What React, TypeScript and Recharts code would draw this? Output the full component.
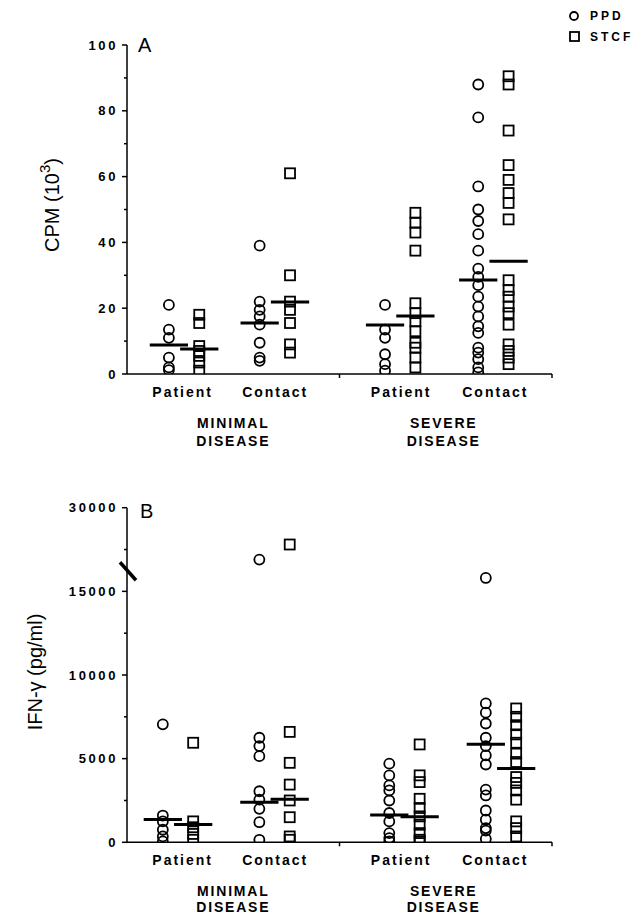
import { ReferenceDot, ReferenceLine, Scatter, ScatterChart, XAxis, YAxis } from "recharts";

const FONT = "'Liberation Sans', Arial, Helvetica, sans-serif";

// labels
const SERIES = ["PPD", "STCF"];
const SUBJECTS = ["Patient", "Contact", "Patient", "Contact"];
const GROUP_NAMES = ["MINIMAL DISEASE", "SEVERE DISEASE"];

// panel A: proliferation, CPM (10^3); groups = min patient, min contact, sev patient, sev contact
const CPM_MIN_PATIENT_PPD = [21, 13.5, 11, 5, 2, 1.2];
const CPM_MIN_PATIENT_STCF = [18, 15.5, 8.5, 7, 5.5, 3.5, 1];
const CPM_MIN_CONTACT_PPD = [39, 22, 19.5, 17.5, 15, 9.5, 5, 4];
const CPM_MIN_CONTACT_STCF = [61, 30, 22, 19.5, 15.5, 9, 6.5];
const CPM_SEV_PATIENT_PPD = [21, 13.5, 11, 6, 3, 1];
const CPM_SEV_PATIENT_STCF = [49, 46, 43, 37.5, 21.5, 18.5, 16, 13, 9.5, 8, 5, 2];
const CPM_SEV_CONTACT_PPD = [88, 78, 57, 50, 46.5, 42.5, 37.5, 32, 29.5, 27, 23.5, 20.5, 17.5, 14.5, 12.5, 8, 6.5, 4.5, 2, 0.5];
const CPM_SEV_CONTACT_STCF = [90.5, 88, 74, 63.5, 59, 55, 52, 47, 28.5, 25.5, 23.5, 20.5, 18.5, 15, 9, 7, 5, 3];
const CPM_MEAN_PPD = [8.8, 15.5, 14.9, 28.6];
const CPM_MEAN_STCF = [7.6, 21.9, 17.6, 34.3];
const CPM_TICKS = [0, 10, 20, 30, 40, 50, 60, 70, 80, 90, 100];

// panel B: IFN-gamma (pg/ml)
const IFN_MIN_PATIENT_PPD = [7050, 1600, 1250, 750, 350, 50];
const IFN_MIN_PATIENT_STCF = [5950, 1250, 900, 500, 150];
const IFN_MIN_CONTACT_PPD = [20700, 6250, 5750, 5150, 3050, 2550, 2000, 1200, 150];
const IFN_MIN_CONTACT_STCF = [23400, 6600, 4750, 3450, 2500, 1500, 350, 150];
const IFN_SEV_PATIENT_PPD = [4700, 4000, 3400, 3100, 2500, 1750, 1250, 550, 250, 50];
const IFN_SEV_PATIENT_STCF = [5850, 4000, 3600, 2600, 2050, 1550, 1050, 550, 150, 50];
const IFN_SEV_CONTACT_PPD = [17400, 8300, 7750, 7100, 6250, 5750, 5200, 4650, 3150, 2800, 1900, 1350, 850, 700, 200];
const IFN_SEV_CONTACT_STCF = [8000, 7500, 7000, 6450, 5950, 5300, 4800, 3900, 3550, 3100, 2550, 1250, 850, 350];
const IFN_MEAN_PPD = [1370, 2390, 1630, 5865];
const IFN_MEAN_STCF = [1070, 2580, 1530, 4415];
const IFN_TICKS = [0, 2500, 5000, 7500, 10000, 12500, 15000, 22500, 30000];
const IFN_BREAK_AT = 15000;
const IFN_BREAK_MARK = 18600;

// x layout (axis units)
const X_DOMAIN = [0, 14];
const SUBJECT_TICKS = [1.8, 4.85, 9, 12.1];
const GROUP_TICKS = [3.47, 10.4];
const DIVIDER_TICKS = [7, 14];
const POS_A = [1.88, 4.87, 9.0, 12.07];
const POS_B = [1.68, 4.86, 9.14, 12.32];
const SPREAD = 0.5;
const MEAN_HALF = 0.63;

// broken axis: above 15000 the scale is compressed 3x
const brk = (v: number) => (v <= IFN_BREAK_AT ? v : IFN_BREAK_AT + (v - IFN_BREAK_AT) / 3);
const unbrk = (p: number) => (p <= IFN_BREAK_AT ? p : IFN_BREAK_AT + (p - IFN_BREAK_AT) * 3);
const ident = (v: number) => v;

const boldText = (size: number, spacing: number) => ({
  fontFamily: FONT,
  fontWeight: 700,
  fontSize: size,
  letterSpacing: spacing,
  fill: "#000",
});

function toPoints(groups: number[][], pos: number[], off: number, tf: (v: number) => number) {
  return groups.flatMap((vals, g) => vals.map((v) => ({ x: pos[g] + off, y: tf(v) })));
}

const circleShape = (p: any) => (
  <circle cx={p.cx} cy={p.cy} r={5} fill="none" stroke="#000" strokeWidth={1.8} />
);
const squareShape = (p: any) => (
  <rect x={p.cx - 5} y={p.cy - 5} width={10} height={10} fill="none" stroke="#000" strokeWidth={1.8} />
);

function makeXTick(groupDy: number[]) {
  return ({ x, y, payload }: any) => {
    const v = payload.value;
    const si = SUBJECT_TICKS.indexOf(v);
    if (si >= 0) {
      return (
        <text x={x + 1} y={y + 23} textAnchor="middle" style={boldText(14, 2)}>
          {SUBJECTS[si]}
        </text>
      );
    }
    const gi = GROUP_TICKS.indexOf(v);
    if (gi >= 0) {
      const [first, second] = GROUP_NAMES[gi].split(" ");
      return (
        <g>
          <text x={x + 1} y={y + groupDy[0]} textAnchor="middle" style={boldText(14, 1.8)}>
            {first}
          </text>
          <text x={x + 1} y={y + groupDy[1]} textAnchor="middle" style={boldText(14, 1.8)}>
            {second}
          </text>
        </g>
      );
    }
    return <line x1={x} x2={x} y1={y} y2={y + 4} stroke="#000" strokeWidth={1.5} />;
  };
}

function makeYTick(majorStep: number, label: (p: number) => number) {
  return ({ x, y, payload }: any) => {
    const v = payload.value;
    const major = v % majorStep === 0;
    return (
      <g>
        <line x1={x - (major ? 5 : 3)} x2={x} y1={y} y2={y} stroke="#000" strokeWidth={1.5} />
        {major && (
          <text x={x - 9} y={y} dy="0.36em" textAnchor="end" style={boldText(13, 2.6)}>
            {label(v)}
          </text>
        )}
      </g>
    );
  };
}

function YTitle({ viewBox, cx, cy, children }: any) {
  const px = viewBox.x + cx;
  const py = cy;
  return (
    <text
      x={px}
      y={py}
      transform={`rotate(-90, ${px}, ${py})`}
      textAnchor="middle"
      dominantBaseline="central"
      style={{ fontFamily: FONT, fontSize: 20, fill: "#000" }}
    >
      {children}
    </text>
  );
}

interface PanelProps {
  ppd: number[][];
  stcf: number[][];
  meanPpd: number[];
  meanStcf: number[];
  pos: number[];
  tf: (v: number) => number;
  yTicks: number[];
  yDomain: number[];
  tick: any;
  xTick: any;
  height: number;
  top: number;
  xHeight: number;
  title: any;
  breakMark?: number;
}

function Panel(props: PanelProps) {
  const { ppd, stcf, meanPpd, meanStcf, pos, tf, yTicks, yDomain, tick, xTick, height, top, xHeight, title, breakMark } =
    props;
  const ppdPts = toPoints(ppd, pos, -SPREAD, tf);
  const stcfPts = toPoints(stcf, pos, SPREAD, tf);
  return (
    <ScatterChart width={644} height={height} margin={{ top, right: 92, bottom: 0, left: 0 }}>
      <XAxis
        type="number"
        dataKey="x"
        domain={X_DOMAIN}
        ticks={[...SUBJECT_TICKS, ...GROUP_TICKS, ...DIVIDER_TICKS].sort((a, b) => a - b)}
        interval={0}
        tick={xTick}
        tickLine={false}
        tickSize={0}
        tickMargin={0}
        height={xHeight}
        axisLine={{ stroke: "#000", strokeWidth: 1.5 }}
        allowDataOverflow
      />
      <YAxis
        type="number"
        dataKey="y"
        domain={yDomain}
        ticks={yTicks.map(tf)}
        interval={0}
        tick={tick}
        tickLine={false}
        tickSize={0}
        tickMargin={0}
        width={127}
        axisLine={{ stroke: "#000", strokeWidth: 1.5 }}
        allowDataOverflow
        label={title}
      />
      <Scatter name={SERIES[0]} data={ppdPts} shape={circleShape} isAnimationActive={false} />
      <Scatter name={SERIES[1]} data={stcfPts} shape={squareShape} isAnimationActive={false} />
      {meanPpd.map((m, g) => (
        <ReferenceLine
          key={`p${g}`}
          segment={[
            { x: pos[g] - SPREAD - MEAN_HALF, y: tf(m) },
            { x: pos[g] - SPREAD + MEAN_HALF, y: tf(m) },
          ]}
          stroke="#000"
          strokeWidth={3}
          ifOverflow="visible"
        />
      ))}
      {meanStcf.map((m, g) => (
        <ReferenceLine
          key={`s${g}`}
          segment={[
            { x: pos[g] + SPREAD - MEAN_HALF, y: tf(m) },
            { x: pos[g] + SPREAD + MEAN_HALF, y: tf(m) },
          ]}
          stroke="#000"
          strokeWidth={3}
          ifOverflow="visible"
        />
      ))}
      {breakMark !== undefined && (
        <ReferenceDot
          x={X_DOMAIN[0]}
          y={tf(breakMark)}
          ifOverflow="visible"
          shape={(p: any) => (
            <line x1={p.cx - 7} y1={p.cy - 9} x2={p.cx + 9} y2={p.cy + 9} stroke="#000" strokeWidth={3.5} />
          )}
        />
      )}
    </ScatterChart>
  );
}

export default function App() {
  return (
    <div style={{ position: "absolute", left: 0, top: 0, width: 644, height: 916, background: "#fff" }}>
      <div style={{ position: "absolute", left: 0, top: 0 }}>
        <Panel
          ppd={[CPM_MIN_PATIENT_PPD, CPM_MIN_CONTACT_PPD, CPM_SEV_PATIENT_PPD, CPM_SEV_CONTACT_PPD]}
          stcf={[CPM_MIN_PATIENT_STCF, CPM_MIN_CONTACT_STCF, CPM_SEV_PATIENT_STCF, CPM_SEV_CONTACT_STCF]}
          meanPpd={CPM_MEAN_PPD}
          meanStcf={CPM_MEAN_STCF}
          pos={POS_A}
          tf={ident}
          yTicks={CPM_TICKS}
          yDomain={[0, 100]}
          tick={makeYTick(20, ident)}
          xTick={makeXTick([54, 72])}
          height={460}
          top={45}
          xHeight={86}
          title={
            <YTitle cx={52} cy={205}>
              CPM (10
              <tspan dy={-8} fontSize={15}>
                3
              </tspan>
              <tspan dy={8}>)</tspan>
            </YTitle>
          }
        />
      </div>
      <div style={{ position: "absolute", left: 0, top: 460 }}>
        <Panel
          ppd={[IFN_MIN_PATIENT_PPD, IFN_MIN_CONTACT_PPD, IFN_SEV_PATIENT_PPD, IFN_SEV_CONTACT_PPD]}
          stcf={[IFN_MIN_PATIENT_STCF, IFN_MIN_CONTACT_STCF, IFN_SEV_PATIENT_STCF, IFN_SEV_CONTACT_STCF]}
          meanPpd={IFN_MEAN_PPD}
          meanStcf={IFN_MEAN_STCF}
          pos={POS_B}
          tf={brk}
          yTicks={IFN_TICKS}
          yDomain={[0, brk(30000)]}
          tick={makeYTick(5000, unbrk)}
          xTick={makeXTick([54, 69.5])}
          height={456}
          top={47.7}
          xHeight={73.7}
          breakMark={IFN_BREAK_MARK}
          title={
            <YTitle cx={35} cy={212}>
              IFN-γ (pg/ml)
            </YTitle>
          }
        />
      </div>
      <svg width={644} height={916} style={{ position: "absolute", left: 0, top: 0, pointerEvents: "none" }}>
        <text x={138} y={52} style={{ fontFamily: FONT, fontSize: 20, fill: "#000" }}>
          A
        </text>
        <text x={140} y={518} style={{ fontFamily: FONT, fontSize: 20, fill: "#000" }}>
          B
        </text>
        <circle cx={574} cy={16} r={4} fill="none" stroke="#000" strokeWidth={1.8} />
        <text x={590} y={20} style={boldText(12, 3)}>
          {SERIES[0]}
        </text>
        <rect x={570} y={32} width={9} height={9} fill="none" stroke="#000" strokeWidth={1.8} />
        <text x={590} y={41} style={boldText(12, 3)}>
          {SERIES[1]}
        </text>
      </svg>
    </div>
  );
}
